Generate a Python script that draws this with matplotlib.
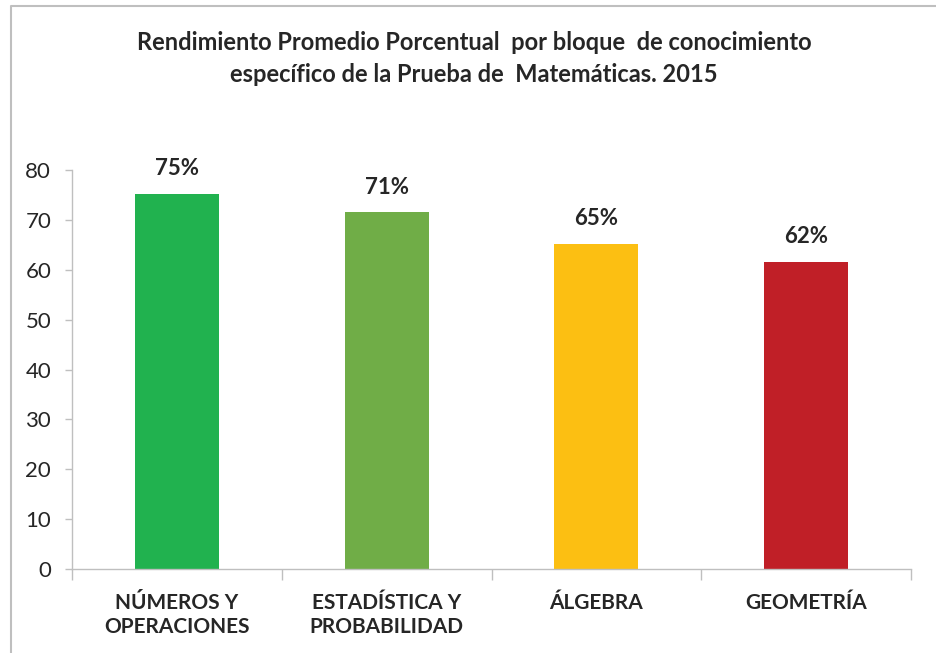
import matplotlib
matplotlib.use("Agg")
import matplotlib.pyplot as plt
from matplotlib.lines import Line2D

categories = ["NÚMEROS Y\nOPERACIONES", "ESTADÍSTICA Y\nPROBABILIDAD", "ÁLGEBRA", "GEOMETRÍA"]
values = [75.2, 71.5, 65.2, 61.6]
labels = ["75%", "71%", "65%", "62%"]
colors = ["#21B24F", "#70AD47", "#FCBF12", "#C01F27"]
yticks = [0, 10, 20, 30, 40, 50, 60, 70, 80]

plt.rcParams['font.family'] = ['Lato', 'DejaVu Sans']
txt = "#262626"

fig = plt.figure(figsize=(9.36, 6.53), dpi=100)
ax = fig.add_axes([72/936, 1-569/653, (911-72)/936, (569-170)/653])

x = list(range(len(categories)))
bars = ax.bar(x, values, width=0.4, color=colors)
for xi, v, lab in zip(x, values, labels):
    ax.annotate(lab, (xi, v), xytext=(0, 18), textcoords="offset points",
                ha="center", va="center", fontsize=16, fontweight="bold", color=txt)

ax.set_xlim(-0.5, 3.5)
ax.set_ylim(0, 80)
ax.set_yticks(yticks)
ax.set_yticklabels([str(t) for t in yticks], fontsize=16, color=txt)
ax.set_xticks(x)
ax.set_xticklabels(categories, fontsize=15, fontweight="bold", color=txt, linespacing=1.3)
ax.set_xticks([-0.5, 0.5, 1.5, 2.5, 3.5], minor=True)
ax.tick_params(axis="x", which="major", length=0, pad=17)
ax.tick_params(axis="x", which="minor", length=8, color="#BFBFBF", width=1)
ax.tick_params(axis="y", length=5, color="#BFBFBF", width=1, pad=10)
for s in ["top", "right"]:
    ax.spines[s].set_visible(False)
for s in ["left", "bottom"]:
    ax.spines[s].set_color("#BFBFBF")
    ax.spines[s].set_linewidth(1)

fig.text(474/936, 1-43/653, "Rendimiento Promedio Porcentual  por bloque  de conocimiento",
         ha="center", va="center", fontsize=17, fontweight="bold", color=txt)
fig.text(474/936, 1-75/653, "específico de la Prueba de  Matemáticas. 2015",
         ha="center", va="center", fontsize=17, fontweight="bold", color=txt)

# outer chart border (top and left visible)
fig.add_artist(Line2D([11/936, 11/936, 1.0], [0.0, 1-6/653, 1-6/653],
                      transform=fig.transFigure, color="#BFBFBF", linewidth=1.5))

fig.savefig("out.png", dpi=100, facecolor="white")
